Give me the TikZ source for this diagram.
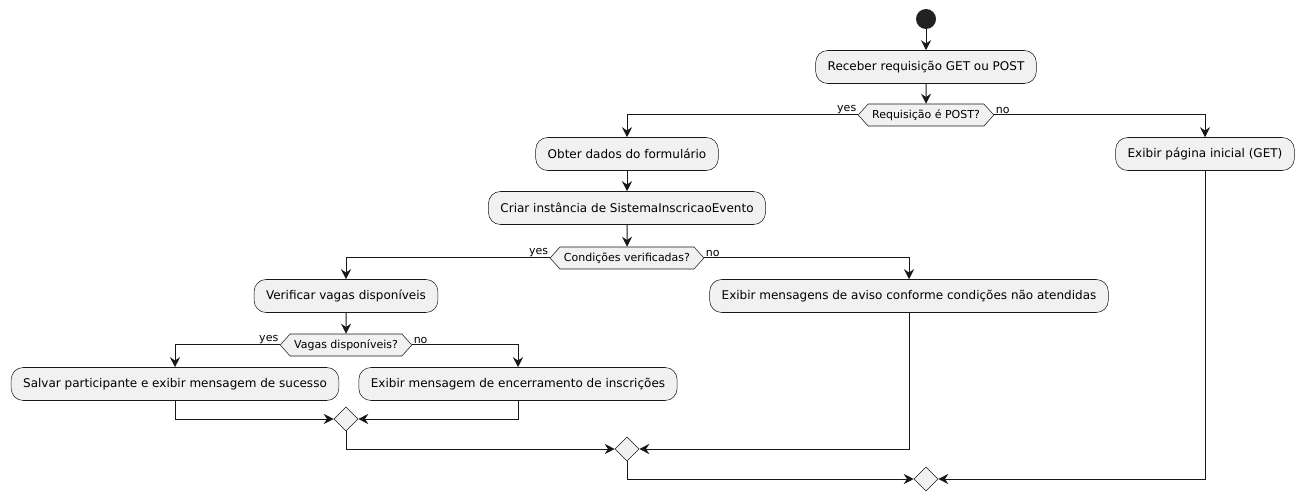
\documentclass[tikz,border=0pt]{standalone}
\usepackage{fontspec}
\setmainfont{DejaVu Sans}
\usetikzlibrary{arrows.meta,shapes.geometric,shapes.symbols}
\definecolor{umlfill}{HTML}{F1F1F1}
\definecolor{umlline}{HTML}{181818}
\definecolor{umlstart}{HTML}{222222}

\begin{document}
\begin{tikzpicture}[x=0.75pt, y=-0.75pt,
    acao/.style={draw=umlline, line width=0.4pt, fill=umlfill, rounded corners=9pt,
        minimum height=24.75pt, inner xsep=9pt, font=\fontsize{9}{11}\selectfont},
    decisao/.style={draw=umlline, line width=0.4pt, fill=umlfill, shape=signal,
        signal to=west and east, signal pointer angle=96, minimum height=16.5pt,
        inner xsep=3pt, inner ysep=0pt, font=\fontsize{8.25}{10}\selectfont},
    juncao/.style={draw=umlline, line width=0.4pt, fill=umlfill, shape=diamond,
        minimum width=18pt, minimum height=18pt, inner sep=0pt},
    rotulo/.style={inner sep=1pt, font=\fontsize{8.25}{10}\selectfont},
    fluxo/.style={draw=umlline, line width=0.75pt, -{Stealth[length=7.5pt, width=7.5pt, inset=2.5pt]}}]
            \useasboundingbox (0,0) rectangle (1300,502);
            \node[circle, fill=umlstart, minimum size=15pt, inner sep=0pt] (inicio) at (926,19) {};
            \node[acao] (receber) at (926,67) {Receber requisição GET ou POST};
            \node[decisao] (post) at (926,115) {Requisição é POST?};
            \node[acao] (obter) at (627,154) {Obter dados do formulário};
            \node[acao] (pagina) at (1205,154) {Exibir página inicial (GET)};
            \node[acao] (criar) at (627,208) {Criar instância de SistemaInscricaoEvento};
            \node[decisao] (cond) at (627,258) {Condições verificadas?};
            \node[acao] (verificar) at (346,296) {Verificar vagas disponíveis};
            \node[acao] (aviso) at (909,296) {Exibir mensagens de aviso conforme condições não atendidas};
            \node[decisao] (vagas) at (346,345) {Vagas disponíveis?};
            \node[acao] (salvar) at (175,384) {Salvar participante e exibir mensagem de sucesso};
            \node[acao] (encerrar) at (518,384) {Exibir mensagem de encerramento de inscrições};
            \node[juncao] (fimA) at (346,419) {};
            \node[juncao] (fimB) at (627,449) {};
            \node[juncao] (fimC) at (926,479) {};
            % yes / no
            \node[rotulo, anchor=south east] at (post.west) {yes};
            \node[rotulo, anchor=south west] at (post.east) {no};
            \node[rotulo, anchor=south east] at (cond.west) {yes};
            \node[rotulo, anchor=south west] at (cond.east) {no};
            \node[rotulo, anchor=south east] at (vagas.west) {yes};
            \node[rotulo, anchor=south west] at (vagas.east) {no};
            \draw[fluxo] (inicio) -- (receber);
            \draw[fluxo] (receber) -- (post);
            \draw[fluxo] (post.west) -| (obter);
            \draw[fluxo] (post.east) -| (pagina);
            \draw[fluxo] (obter) -- (criar);
            \draw[fluxo] (criar) -- (cond);
            \draw[fluxo] (cond.west) -| (verificar);
            \draw[fluxo] (cond.east) -| (aviso);
            \draw[fluxo] (verificar) -- (vagas);
            \draw[fluxo] (vagas.west) -| (salvar);
            \draw[fluxo] (vagas.east) -| (encerrar);
            \draw[fluxo] (salvar) |- (fimA);
            \draw[fluxo] (encerrar) |- (fimA);
            \draw[fluxo] (fimA) |- (fimB);
            \draw[fluxo] (aviso) |- (fimB);
            \draw[fluxo] (fimB) |- (fimC);
            \draw[fluxo] (pagina) |- (fimC);
        \end{tikzpicture}
\end{document}
